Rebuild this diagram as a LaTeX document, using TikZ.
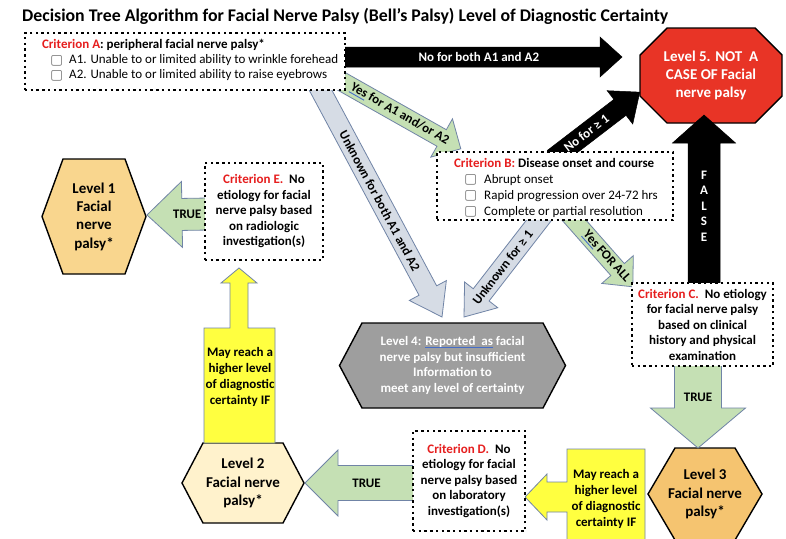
\documentclass[tikz,border=0pt]{standalone}
\usepackage{fontspec}
\setmainfont{Carlito}
\newfontfamily\symfont{DejaVu Sans}
\usetikzlibrary{calc}

\pgfdeclarelayer{shapelayer}
\pgfdeclarelayer{arrowlayer}
\pgfsetlayers{shapelayer,arrowlayer,main}

\definecolor{critred}{RGB}{230,30,30}
\definecolor{arrowgreen}{RGB}{197,224,180}
\definecolor{arrowgray}{RGB}{214,220,229}
\definecolor{edgeblue}{RGB}{112,132,166}
\definecolor{stopred}{RGB}{232,52,38}
\definecolor{lvlone}{RGB}{249,214,142}
\definecolor{lvltwo}{RGB}{255,242,204}
\definecolor{lvlthree}{RGB}{245,196,112}
\definecolor{lvlfour}{RGB}{158,158,158}
\definecolor{calloutyellow}{RGB}{255,255,64}
\definecolor{spellblue}{RGB}{70,110,200}
\definecolor{boxgray}{RGB}{120,120,120}

% blue spell-check underline
\newlength\ulwidth
\newcommand\spellul[1]{\settowidth\ulwidth{#1}\rlap{\textcolor{spellblue}{\rule[-2.4pt]{\ulwidth}{0.9pt}}}#1}
% empty check box in front of list items
\newcommand\cbox{{\symfont\fontsize{14}{14}\selectfont\textcolor{boxgray}{\raisebox{-0.6pt}{▢}}}}
\newcommand\crit[1]{\textcolor{critred}{#1}}

% block arrow from #2 (tail) to #3 (tip)
% #1 style, #4 shaft width, #5 head width, #6 head length,
% #7 label position along the arrow, #8 label options, #9 label text
\newcommand\blockarrow[9]{%
  \path[#1] let \p1=(#2), \p2=(#3),
      \n1={atan2(\y2-\y1,\x2-\x1)}, \n2={veclen(\x2-\x1,\y2-\y1)} in
    [shift={(\p1)}, rotate=\n1]
    (0pt,{#4*0.5pt}) -- ({(\n2-#6)*1pt},{#4*0.5pt}) -- ({(\n2-#6)*1pt},{#5*0.5pt})
    -- ({\n2*1pt},0pt) -- ({(\n2-#6)*1pt},{-#5*0.5pt}) -- ({(\n2-#6)*1pt},{-#4*0.5pt})
    -- (0pt,{-#4*0.5pt}) -- cycle
    ({#7*\n2*1pt},0pt) node[arrowtext, rotate=\n1, #8] {#9};%
}

% elongated hexagon around a node: half top edge, half full width, half height, fill
\newcommand\hexagon[5]{%
  \draw[hexline, fill=#5] ([shift={(-#3,0)}]#1.center) -- ([shift={(-#2,-#4)}]#1.center)
    -- ([shift={(#2,-#4)}]#1.center) -- ([shift={(#3,0)}]#1.center)
    -- ([shift={(#2,#4)}]#1.center) -- ([shift={(-#2,#4)}]#1.center) -- cycle;}

\begin{document}
\begin{tikzpicture}[x=1pt, y=-1pt,
  dotbox/.style={draw=black, fill=white, line width=2.4pt, dash pattern=on 2.4pt off 3.3pt,
    inner sep=0pt, align=center, font=\fontsize{13}{15.5}\selectfont\bfseries},
  listtext/.style={anchor=north west, inner sep=0pt, align=left},
  lvl/.style={inner sep=0pt, align=center, font=\fontsize{15}{18.3}\selectfont\bfseries},
  lvlwhite/.style={inner sep=0pt, align=center, text=white},
  hexline/.style={draw=black, line width=1.4pt},
  blackarrow/.style={fill=black, draw=black, line width=0.5pt},
  greenarrow/.style={fill=arrowgreen, draw=edgeblue, line width=0.8pt},
  grayarrow/.style={fill=arrowgray, draw=edgeblue, line width=0.8pt},
  arrowtext/.style={inner sep=0pt, font=\fontsize{13}{15.5}\selectfont\bfseries},
  callout/.style={fill=calloutyellow, draw=edgeblue, line width=0.8pt},
  callouttext/.style={inner sep=0pt, align=center, font=\fontsize{13}{16}\selectfont\bfseries}
]
\useasboundingbox (0,0) rectangle (786,538);
\begin{pgfonlayer}{shapelayer}
  \fill[white] (0,0) rectangle (786,538);
\end{pgfonlayer}

% ---------- title ----------
\node[anchor=base west, inner sep=0pt, font=\fontsize{17.8}{20}\selectfont\bfseries] (title) at (22,21.5)
  {Decision Tree Algorithm for Facial Nerve Palsy (Bell’s Palsy) Level of Diagnostic Certainty};

% ---------- criteria ----------
\node[dotbox, minimum width=320, minimum height=57] (critA) at (185,61.5) {};
\node[listtext, font=\fontsize{13}{15}\selectfont] (critAtext) at ([shift={(18,7.5)}]critA.north west)
  {\textbf{\crit{Criterion A}: peripheral facial nerve palsy*}\\
   \hspace*{8pt}\cbox\hspace{6pt}A1. Unable to or limited ability to wrinkle forehead\\
   \hspace*{8pt}\cbox\hspace{6pt}A2. Unable to or limited ability to raise eyebrows};

\node[dotbox, minimum width=236, minimum height=68] (critB) at (555,186) {};
\node[listtext, font=\fontsize{13}{16}\selectfont] (critBtext) at ([shift={(18,7)}]critB.north west)
  {\textbf{\crit{Criterion B:} Disease onset and course}\\
   \hspace*{10pt}\cbox\hspace{7pt}Abrupt onset\\
   \hspace*{10pt}\cbox\hspace{7pt}Rapid progression over 24-72 hrs\\
   \hspace*{10pt}\cbox\hspace{7pt}Complete or partial resolution};

\node[dotbox, minimum width=141, minimum height=83] (critC) at (702.5,324.5)
  {\crit{Criterion C.}\ \ No etiology\\for facial nerve palsy\\based on clinical\\history and physical\\examination};
\node[dotbox, minimum width=112, minimum height=100] (critD) at (469,481)
  {\crit{Criterion D.}\ \ No\\etiology for facial\\nerve palsy based\\on laboratory\\investigation(s)};
\node[dotbox, minimum width=118, minimum height=97] (critE) at (264,211.5)
  {\crit{Criterion E.}\ \ No\\etiology for facial\\nerve palsy based\\on radiologic\\investigation(s)};

% ---------- levels ----------
\node[lvl] (L1) at (94,216.5) {Level 1\\Facial\\nerve\\palsy*};
\node[lvl] (L2) at (243,483) {Level 2\\Facial nerve\\palsy*};
\node[lvl] (L3) at (705,494) {Level 3\\Facial nerve\\palsy*};
\node[lvlwhite, font=\fontsize{13}{15.5}\selectfont\bfseries] (L4) at (452.5,365.5)
  {Level 4: \spellul{Reported\ \ as} facial\\nerve palsy but insufficient\\Information to\\meet any level of certainty};
\node[lvlwhite, font=\fontsize{15}{17.8}\selectfont\bfseries] (L5) at (711,75.5)
  {Level 5. NOT\ \ A\\CASE OF Facial\\nerve palsy};

% ---------- callouts ----------
\node[callouttext] (may1) at (240,377) {May reach a\\higher level\\of diagnostic\\certainty IF};
\node[callouttext] (may2) at (606,499) {May reach a\\higher level\\of diagnostic\\certainty IF};

\begin{pgfonlayer}{shapelayer}
  \hexagon{L1}{31}{52}{57.5}{lvlone}
  \hexagon{L2}{40}{61}{40}{lvltwo}
  \hexagon{L3}{30}{57}{46}{lvlthree}
  \hexagon{L4}{90.5}{113}{42.5}{lvlfour}
  % stop sign octagon
  \draw[hexline, fill=stopred]
    ([shift={(-44,-47.5)}]L5.center) -- ([shift={(44,-47.5)}]L5.center)
    -- ([shift={(71,-20.5)}]L5.center) -- ([shift={(71,20.5)}]L5.center)
    -- ([shift={(44,47.5)}]L5.center) -- ([shift={(-44,47.5)}]L5.center)
    -- ([shift={(-71,20.5)}]L5.center) -- ([shift={(-71,-20.5)}]L5.center) -- cycle;
  % upward callout above level 2
  \draw[callout] (204,443) -- (204,328) -- (230,328) -- (230,283) -- (221,283) -- (239,268)
    -- (257,283) -- (248,283) -- (248,328) -- (275,328) -- (275,443) -- cycle;
  % leftward callout beside level 3
  \draw[callout] (645,449) -- (567,449) -- (567,482) -- (547,482) -- (547,474) -- (525,497)
    -- (547,520) -- (547,512) -- (567,512) -- (567,545) -- (645,545) -- cycle;
\end{pgfonlayer}

% ---------- block arrows ----------
\begin{pgfonlayer}{arrowlayer}
  \blockarrow{blackarrow}{[shift={(-5,-4.5)}]critA.east}{[shift={(-89,-18.5)}]L5.center}
    {20}{40}{22}{0.49}{text=white}{No for both A1 and A2}
  \blockarrow{greenarrow}{[shift={(-5,-10)}]critA.south east}{[shift={(25,-2)}]critB.north west}
    {19}{44}{22}{0.49}{}{\spellul{Yes} for A1 and/or A2}
  \blockarrow{grayarrow}{[shift={(-31,-11)}]critA.south east}{[shift={(-10.5,-48.5)}]L4.center}
    {20}{42}{30}{0.51}{}{Unknown for both A1 and A2}
  \blockarrow{grayarrow}{[shift={(-9,-10)}]critB.south}{[shift={(11.5,-48.5)}]L4.center}
    {20}{42}{28}{0.53}{rotate=180}{Unknown for ≥ 1}
  \blockarrow{greenarrow}{[shift={(12,-9)}]critB.south}{[shift={(2,5)}]critC.north west}
    {18}{42}{23}{0.6}{}{\spellul{Yes} FOR ALL}
  \blockarrow{blackarrow}{[shift={(-1.5,7.5)}]critB.north}{[shift={(-71,16.5)}]L5.center}
    {20}{42}{25}{0.38}{text=white}{No for ≥ 1}
  \blockarrow{blackarrow}{[shift={(1.5,5)}]critC.north}{[shift={(-7,39.5)}]L5.center}
    {32}{63}{28}{0.47}{rotate=-90, text=white, align=center, font=\fontsize{13}{15.5}\selectfont\bfseries}{F\\A\\L\\S\\E}
  \blockarrow{greenarrow}{[shift={(-4.5,-5)}]critC.south}{[shift={(-7,-46)}]L3.center}
    {47}{95}{40}{0.41}{rotate=90}{TRUE}
  \blockarrow{greenarrow}{[shift={(5,2)}]critD.west}{[shift={(62,0)}]L2.center}
    {35}{66}{33}{0.45}{rotate=180}{TRUE}
  \blockarrow{greenarrow}{[shift={(5,2.5)}]critE.west}{[shift={(53,-1.5)}]L1.center}
    {32}{66}{35}{0.35}{rotate=180}{TRUE}
\end{pgfonlayer}
\end{tikzpicture}
\end{document}
